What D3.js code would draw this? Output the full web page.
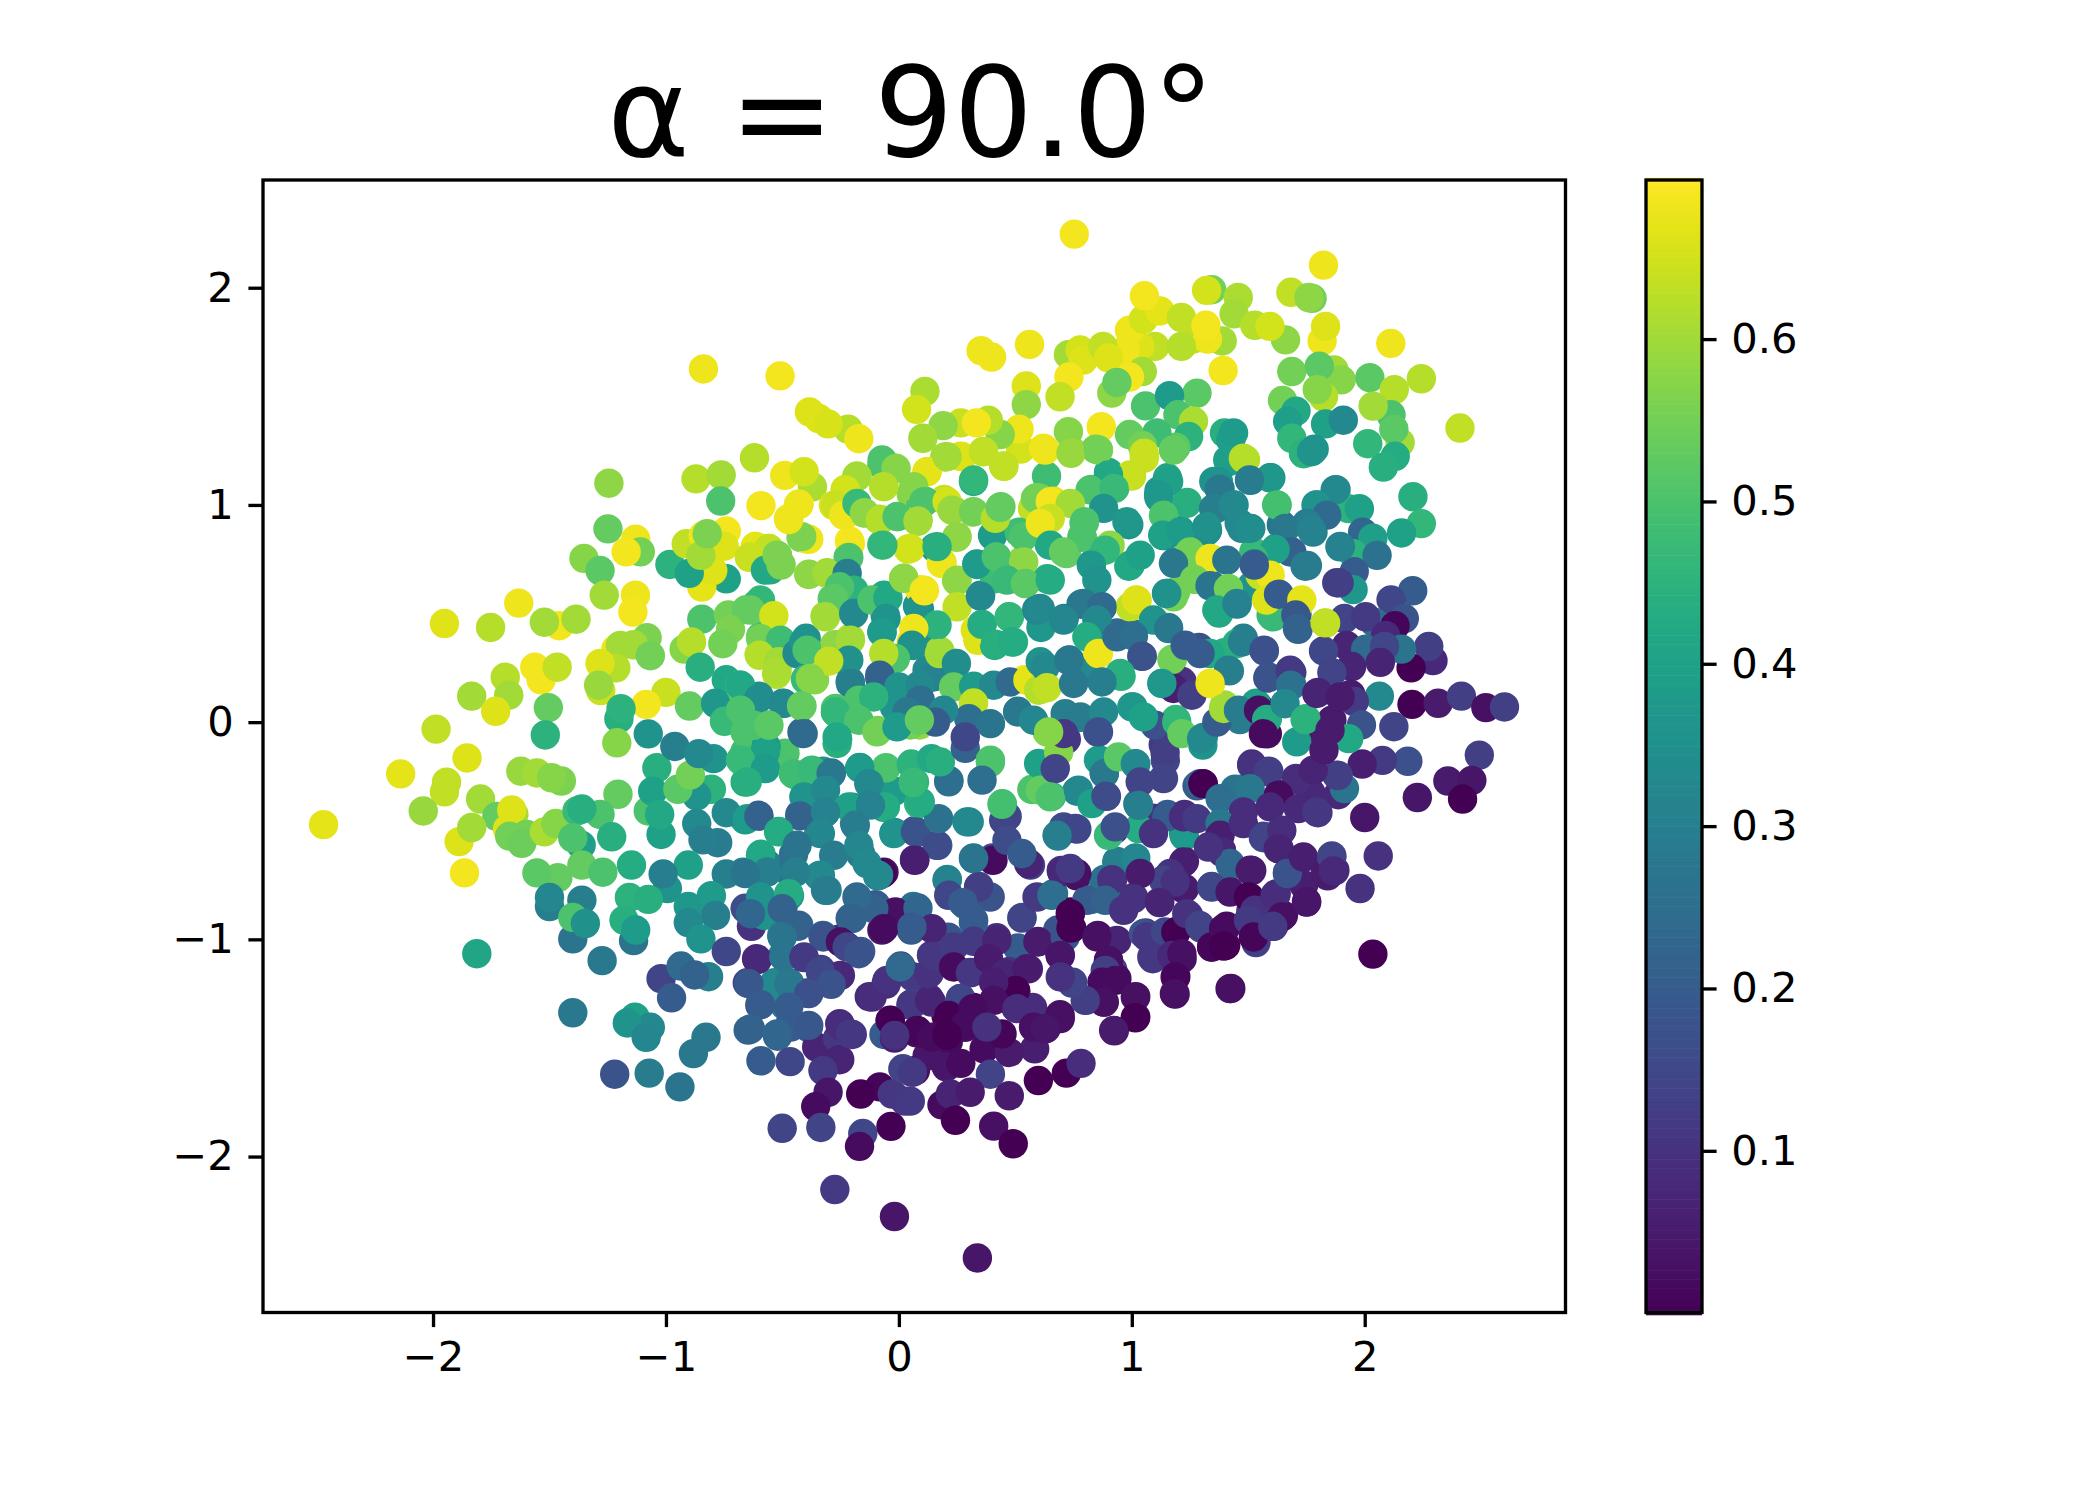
<!DOCTYPE html>
<html><head><meta charset="utf-8">
<script src="https://cdn.jsdelivr.net/npm/d3@7/dist/d3.min.js"></script>
<style>html,body{margin:0;background:#fff}svg{display:block}text{font-family:"DejaVu Sans";fill:#000}</style>
</head><body><svg id="c" width="2100" height="1500"></svg>
<script>
const title = "α = 90.0°";
const xTicks = [-2,-1,0,1,2];
const yTicks = [-2,-1,0,1,2];
const cTicks = [0.1,0.2,0.3,0.4,0.5,0.6];
const xDomain = [-2.73,2.862];
const yDomain = [-2.718,2.496];
const cDomain = [0.0004,0.698];
// [x, y, colour value]
const upperLeft = [[-.839,1.626,.68],[-.51,1.594,.685],[-.384,1.428,.66],[-.344,1.398,.66],[-.218,1.349,.62],[-.304,1.373,.655],[-.172,1.305,.68],[-.62,1.217,.62],[-.871,1.12,.62],[-.763,1.138,.6],[-1.245,1.1,.58],[-.765,1.018,.5],[-.592,.997,.685],[-.49,1.136,.68],[-.371,1.083,.61],[-.407,1.153,.65],[-.474,.937,.68],[-.431,1.003,.68],[-.281,.998,.66],[-.227,.958,.68],[-.18,1,.45],[-.23,1.071,.65],[-.073,1.183,.5],[-.015,1.169,.57],[-.18,1.133,.62],[-.064,1.086,.62],[-.15,.963,.58],[-.088,.934,.62],[-.005,.947,.5],[.08,.925,.6],[.053,1.05,.57],[.095,1,.5],[-.073,.817,.46],[.04,.797,.65],[-.212,.834,.69],[-.218,.759,.5],[-.387,.842,.68],[-.42,.85,.56],[-1.249,.89,.53],[-1.13,.842,.68],[-1.11,.784,.55],[-1.171,.784,.685],[-1.352,.754,.57],[-1.283,.698,.52],[-.983,.726,.45],[-.741,.66,.4],[-.846,.622,.67],[-.799,.698,.66],[-.9,.685,.4],[-.913,.821,.63],[-.84,.858,.68],[-.741,.88,.685],[-.75,.81,.66],[-.85,.768,.6],[-.823,.867,.56],[-.561,.8,.63],[-.642,.759,.64],[-.615,.81,.67],[-.552,.701,.42],[-.507,.726,.56],[-.521,.768,.55],[-.227,.685,.3],[-.308,.688,.6],[-.386,.681,.58],[-.227,.602,.45],[-.254,.622,.5],[-.2,.56,.5],[-.286,.568,.52],[-.317,.489,.6],[-.064,.585,.42],[.021,.663,.58],[-.059,.494,.36],[-.073,.416,.38],[.08,.535,.36],[.089,.61,.685],[.053,.369,.68],[.062,.353,.35],[-.209,.386,.62],[-.276,.356,.58],[-.435,.328,.33],[-.398,.386,.36],[-.395,.336,.5],[-.236,.286,.36],[-.302,.283,.63],[-1.265,.585,.6],[-1.131,.585,.68],[-1.142,.507,.685],[-1.632,.548,.68],[-1.951,.454,.665],[-1.753,.436,.62],[-1.458,.444,.685],[-1.522,.46,.6],[-1.386,.474,.6],[-.846,.474,.5],[-.611,.543,.46],[-.732,.494,.55],[-.655,.518,.53],[-.539,.49,.65],[-.723,.427,.56],[-1.081,.389,.56],[-1.215,.336,.68],[-1.196,.353,.6],[-1.139,.356,.6],[-1.067,.306,.55],[-.922,.336,.57],[-.89,.369,.62],[-.756,.361,.55],[-.516,.369,.45],[-.593,.394,.48],[-.853,.253,.44],[-.521,.294,.6],[-.6,.311,.62],[-.525,.22,.62],[-1.215,.25,.62],[-1.283,.27,.66],[-1.536,.195,.685],[-1.563,.253,.685],[-1.467,.253,.63],[-1.69,.207,.62],[-1.675,.124,.6],[-1.834,.12,.6],[-1.731,.05,.66],[-1.505,.067,.53],[-1.28,.145,.64],[-1.289,.17,.59],[-1,.137,.64],[-1.085,.082,.685],[-.899,.074,.53],[-1.202,.016,.44],[-1.193,.062,.45],[-1.076,-.054,.36],[-.962,-.112,.3],[-.859,-.145,.33],[-1.518,-.059,.45],[-1.987,-.032,.63],[-1.211,-.095,.57],[-.741,.195,.42],[-.687,.095,.53],[-.787,.087,.37],[-.684,.17,.45],[-.6,.12,.34],[-.498,.087,.33],[-.416,.074,.53],[-.398,.203,.47],[-.362,.195,.57],[-.209,.187,.3],[-.082,.203,.22],[-.172,.112,.5],[-.272,.045,.5],[-.416,-.046,.24],[-.263,-.079,.42],[-.091,-.038,.55],[-.749,.004,.47],[-.56,-.013,.52],[-.66,-.046,.5],[-.57,-.112,.38],[.053,.07,.26],[.089,-.013,.58],[.089,.17,.3],[-.019,.07,.36]];
const upperRight = [[.753,2.247,.685],[1.343,1.991,.55],[1.321,1.988,.65],[1.823,2.104,.68],[1.774,1.951,.55],[1.683,1.979,.63],[1.76,1.955,.58],[1.099,1.73,.63],[1.035,1.73,.66],[.972,1.714,.68],[.99,1.805,.68],[1.05,1.855,.65],[1.121,1.893,.67],[1.054,1.963,.685],[1.457,1.955,.61],[1.439,1.88,.6],[1.388,1.755,.6],[1.262,1.764,.63],[1.325,1.764,.68],[1.213,1.73,.62],[1.213,1.863,.63],[1.318,1.827,.685],[1.66,1.76,.58],[1.528,1.827,.62],[1.593,1.822,.65],[1.817,1.755,.68],[1.832,1.822,.66],[2.112,1.744,.68],[2.243,1.581,.62],[2.409,1.354,.63],[.353,1.71,.68],[.398,1.681,.68],[.561,1.739,.68],[.728,1.692,.6],[.778,1.714,.65],[.791,1.667,.66],[.876,1.73,.63],[.9,1.677,.66],[1.392,1.619,.685],[1.687,1.614,.55],[1.868,1.622,.6],[1.899,1.576,.57],[1.805,1.639,.52],[2.022,1.586,.52],[2.127,1.531,.62],[1.823,1.498,.62],[1.796,1.531,.57],[1.647,1.481,.55],[2.113,1.415,.5],[2.036,1.455,.6],[2.152,1.287,.6],[2.125,1.349,.52],[1.705,1.432,.42],[1.669,1.385,.39],[1.832,1.373,.4],[1.908,1.39,.33],[1.687,1.307,.46],[1.783,1.257,.36],[1.738,1.236,.45],[2.013,1.282,.46],[2.131,1.224,.43],[2.08,1.174,.44],[2.207,1.038,.44],[2.243,.914,.46],[2.158,.871,.4],[.73,1.589,.685],[.547,1.548,.66],[.692,1.498,.63],[.547,1.462,.58],[1.045,1.614,.6],[.99,1.589,.685],[.914,1.515,.58],[.936,1.564,.53],[1.059,1.456,.5],[1.28,1.515,.52],[1.162,1.503,.38],[1.198,1.415,.5],[1.265,1.385,.61],[1.244,1.315,.45],[1.189,1.266,.52],[1.108,1.332,.48],[1.054,1.216,.64],[.999,1.133,.63],[.99,1.324,.53],[1.045,1.274,.55],[.742,1.249,.6],[.728,1.337,.57],[.869,1.36,.685],[.523,1.257,.65],[.516,1.349,.68],[.621,1.261,.68],[.435,1.324,.57],[.384,1.39,.62],[.266,1.378,.64],[.333,1.378,.685],[.19,1.365,.58],[.112,1.523,.61],[.076,1.44,.65],[.103,1.307,.6],[.197,1.221,.6],[.266,1.224,.65],[.362,1.246,.63],[.451,1.178,.63],[.121,1.153,.67],[.32,1.108,.42],[.634,1.133,.48],[.845,1.257,.55],[.9,1.15,.42],[.827,1.071,.5],[.927,1.078,.47],[1.153,1.125,.41],[1.117,1.033,.37],[1.117,1.066,.37],[1.238,1.012,.44],[1.488,1.208,.62],[1.398,1.332,.44],[1.425,1.299,.39],[1.437,1.332,.38],[1.416,1.199,.39],[1.597,1.125,.37],[1.51,1.113,.29],[1.352,1.108,.36],[1.379,1.075,.28],[1.361,.983,.3],[1.439,1,.33],[1.624,1,.49],[1.877,1.07,.33],[1.931,.983,.45],[1.977,.983,.4],[1.832,.958,.24],[1.796,.9995,.36],[1.76,.917,.3],[1.991,.875,.23],[1.325,.884,.34],[1.461,.917,.33],[1.511,.892,.34],[1.642,.909,.27],[1.778,.875,.3],[2.035,.847,.39],[1.95,.776,.45],[2.053,.768,.26],[1.895,.809,.31],[1.955,.693,.2],[1.687,.784,.22],[1.62,.801,.4],[1.754,.721,.29],[1.524,.784,.47],[1.95,.61,.37],[1.89,.641,.13],[2.206,.605,.2],[2.113,.563,.15],[2.17,.477,.18],[2.04,.46,.25],[1.913,.477,.14],[2.004,.485,.12],[1.832,.456,.63],[2.13,.444,.01],[2.089,.399,.08],[2.293,.283,.08],[2.275,.349,.13],[2.199,.25,0],[1.922,.353,.07],[2.158,.336,.27],[2.076,.319,.25],[2.004,.336,.24],[2.085,.349,.15],[1.823,.328,.15],[1.944,.256,.07],[2.067,.275,.07],[1.859,.228,.14],[2.063,.12,.33],[2.203,.082,0],[2.315,.087,.05],[2.415,.12,.13],[2.52,.067,.03],[2.6,.07,.13],[1.94,.128,.05],[1.955,.095,.12],[1.799,.137,.07],[1.859,.009,.05],[1.805,-.037,.05],[2.125,-.021,.14],[1.986,-.013,.18],[1.931,-.076,.42],[1.747,.016,.45],[1.582,-.054,.02],[1.542,.075,.02],[1.533,.087,.4],[1.582,.016,.43],[1.464,.012,.29],[1.398,.079,.6],[1.338,.178,.68],[1.419,.236,.3],[1.687,.228,.12],[1.584,.203,.18],[1.687,.17,.26],[1.569,.328,.17],[1.479,.386,.3],[1.606,.485,.47],[1.714,.427,.22],[1.709,.494,.19],[1.723,.552,.67],[1.633,.588,.2],[1.569,.651,.68],[1.53,.726,.24],[1.343,.751,.68],[1.289,.66,.55],[1.343,.631,.27],[1.374,.502,.42],[1.452,.544,.31],[1.244,.784,.55],[1.184,.735,.28],[1.144,.859,.35],[1.135,.859,.3],[1.207,.884,.38],[1.189,.602,.55],[1.149,.593,.35],[1.023,.56,.66],[.987,.718,.42],[.827,.726,.37],[.782,.543,.28],[.873,.529,.24],[.719,.776,.53],[.646,.817,.42],[.787,.851,.5],[.795,.917,.5],[.878,.792,.46],[.987,.909,.36],[.574,.983,.63],[.664,1.017,.67],[.592,1.033,.55],[.416,.934,.62],[.438,.992,.53],[.23,.98,.57],[.317,.967,.58],[.194,1.025,.64],[.112,1.017,.48],[.082,.934,.6],[.248,.851,.6],[.185,.734,.65],[.154,.804,.37],[.402,.859,.38],[.335,.726,.38],[.42,.759,.47],[.516,.875,.48],[.529,.743,.58],[.109,.607,.685],[.351,.585,.33],[.248,.651,.58],[.411,.66,.47],[.538,.643,.52],[.637,.66,.43],[.357,.449,.43],[.474,.485,.46],[.592,.519,.32],[.71,.477,.28],[.339,.377,.66],[.411,.353,.43],[.492,.369,.44],[.61,.436,.37],[.733,.286,.28],[.628,.158,.63],[.538,.195,.685],[.32,.09,.63],[.239,.27,.34],[.14,.211,.33],[.067,.436,.68],[.085,.369,.36],[.176,.328,.6],[.511,.05,.28],[.773,.021,.29],[.311,.021,.3],[.049,-.013,.55],[1.005,.07,.37],[.854,-.046,.17],[.719,-.079,.11],[.637,-.046,.57],[1.189,.012,.46],[1.307,-.07,.33],[1.135,-.104,.12],[.999,.411,.25],[.854,.32,.68],[.936,.411,.24],[1.045,.303,.18],[1.175,.29,.55],[1.216,.187,.1],[1.13,.178,.37],[.954,.211,.44],[.818,.228,.33],[1.157,.436,.33],[.827,.386,.4],[1.397,.32,.44],[1.289,.344,.17],[1.515,.627,.35]];
const lowerLeft = [[-1.854,-.165,.66],[-2.139,-.238,.67],[-1.951,-.321,.63],[-1.942,-.276,.63],[-2.47,-.472,.67],[-2.042,-.409,.59],[-1.796,-.354,.6],[-1.623,-.226,.59],[-1.554,-.234,.6],[-1.449,-.271,.56],[-1.491,-.256,.57],[-1.206,-.332,.53],[-1.726,-.434,.53],[-1.653,-.425,.6],[-1.662,-.404,.66],[-1.888,-.55,.66],[-1.834,-.485,.6],[-1.68,-.492,.66],[-1.599,-.517,.55],[-1.671,-.525,.55],[-1.619,-.558,.54],[-1.522,-.505,.61],[-1.473,-.467,.57],[-1.865,-.694,.685],[-1.283,-.425,.5],[-1.382,-.409,.47],[-1.361,-.4,.44],[-1.364,-.566,.39],[-1.4,-.533,.5],[-1.361,-.658,.53],[-1.464,-.716,.53],[-1.554,-.694,.52],[-1.271,-.691,.5],[-1.233,-.528,.44],[-1.076,-.409,.5],[-1.039,-.21,.44],[-1.057,-.318,.4],[-1.021,-.517,.4],[-1.027,-.425,.42],[-.805,-.309,.45],[-.868,-.339,.36],[-.949,-.309,.52],[-.895,-.243,.55],[-.796,-.168,.36],[-.669,-.16,.42],[-.579,-.152,.38],[-.66,-.276,.43],[-.66,-.45,.38],[-.741,-.417,.33],[-.602,-.429,.2],[-.868,-.467,.33],[-.516,-.503,.42],[-.778,-.555,.29],[-.841,-.542,.3],[-.592,-.608,.42],[-.561,-.683,.3],[-.669,-.691,.29],[-.741,-.699,.3],[-.904,-.658,.4],[-1.148,-.658,.43],[-.994,-.766,.36],[-1.012,-.699,.3],[-1.157,-.807,.45],[-1.076,-.816,.44],[-.805,-.799,.38],[-.904,-.849,.37],[-.787,-.89,.3],[-.904,-.923,.33],[-.85,-.998,.36],[-1.5,-.849,.3],[-1.5,-.807,.32],[-1.361,-.82,.3],[-1.4,-.998,.27],[-1.4,-.899,.5],[-1.346,-.927,.35],[-1.139,-1.006,.27],[-1.18,-.912,.44],[-1.13,-.957,.38],[-1.274,-1.098,.28],[-1.812,-1.066,.41],[-1.4,-1.338,.28],[-1.133,-1.358,.4],[-1.067,-1.405,.33],[-1.166,-1.385,.36],[-1.085,-1.451,.32],[-.828,-1.451,.28],[-.882,-1.526,.28],[-1.22,-1.621,.18],[-1.072,-1.616,.29],[-.94,-1.679,.27],[-1.021,-1.181,.14],[-.976,-1.269,.2],[-.817,-1.172,.3],[-.935,-1.123,.24],[-.877,-1.164,.22],[-.741,-1.056,.15],[-.611,-1.089,.08],[-.534,-1.2,.32],[-.651,-1.2,.14],[-.597,-1.302,.13],[-.489,-1.305,.26],[-.47,-1.2,.24],[-.647,-1.418,.22],[-.521,-1.446,.23],[-.592,-1.559,.2],[-.467,-1.563,.15],[-.47,-1.396,.19],[-.389,-1.405,.19],[-.398,-1.247,.18],[-.29,-1.2,.18],[-.254,-1.388,.09],[-.353,-1.496,.07],[-.2,-1.438,.11],[-.263,-1.455,.11],[-.254,-1.554,.07],[-.326,-1.604,.12],[-.304,-1.704,.04],[-.357,-1.77,.02],[-.082,-1.679,.01],[-.164,-1.712,0],[.026,-1.745,.12],[-.028,-1.712,.11],[-.335,-1.866,.14],[-.501,-1.87,.14],[-.155,-1.894,.15],[-.034,-1.861,0],[-.169,-1.953,.02],[-.275,-2.152,.12],[-.019,-2.276,.04],[-.407,-1.081,.12],[-.335,-1.139,.13],[-.254,-.998,.08],[-.227,-1.031,.16],[-.164,-1.056,.19],[.008,-1.123,.14],[-.127,-1.264,.08],[-.055,-1.206,.09],[.053,-1.297,.07],[-.037,-1.372,.01],[.08,-1.421,.01],[-.064,-1.438,.2],[-.019,-1.455,.06],[.071,-1.604,.02],[.017,-1.596,.14],[-.073,-.957,.04],[-.037,-.89,.05],[-.01,-.877,.03],[.053,-.957,.2],[-.172,-.824,.19],[-.209,-.903,.22],[-.1,-.84,.2],[.062,-.849,.26],[-.064,-.691,.03],[-.091,-.708,.3],[.068,-.633,.07],[.068,-.5,.18],[-.019,-.508,.31],[-.19,-.467,.29],[-.344,-.508,.3],[-.425,-.425,.22],[-.317,-.417,.33],[-.326,-.226,.35],[-.29,-.234,.24],[-.167,-.21,.38],[-.127,-.284,.29],[.062,-.276,.47],[-.064,-.392,.35],[-.2,-.392,.33],[-.561,-.658,.3],[-.47,-.691,.26],[-.344,-.708,.33],[-.308,-.774,.32],[-.47,-.799,.36],[-.66,-.857,.16],[-.633,-.877,.18],[-.633,-.94,.1],[-.579,-.89,.36],[-.498,-.857,.23],[-.434,-.94,.23],[-.326,-.982,.2],[-.503,-.982,.31],[-.498,-1.073,.28],[-.452,-.608,.25],[-.164,-.608,.28],[-.019,-.318,.38],[-.444,-.243,.47],[-.38,-.226,.44],[-.055,-.21,.5],[.053,-.193,.45],[-.489,-.143,.5],[-.66,-.135,.48]];
const lowerRight = [[2.492,-.152,.13],[2.185,-.18,.17],[2.076,-.176,.12],[1.989,-.193,.06],[2.357,-.271,.05],[2.46,-.268,.04],[2.42,-.354,0],[2.226,-.347,.04],[2,-.439,.04],[1.886,-.334,.08],[1.913,-.306,.27],[1.886,-.246,.15],[1.799,-.417,.11],[1.769,-.326,.08],[1.705,-.259,.1],[1.633,-.334,.03],[1.588,-.226,.13],[1.515,-.193,.09],[1.443,-.309,.27],[1.47,-.309,.28],[1.307,-.284,0],[1.153,-.425,.2],[1.226,-.425,.09],[1.026,-.376,.26],[1.226,-.525,.38],[1.03,-.488,.42],[1.379,-.508,.07],[1.385,-.591,.08],[1.642,-.5,.09],[1.566,-.525,.15],[1.633,-.583,.07],[2.058,-.616,.1],[1.859,-.616,.14],[1.872,-.683,.08],[1.841,-.708,.06],[1.732,-.625,.07],[1.669,-.691,.18],[1.738,-.749,.06],[1.75,-.827,.04],[1.62,-.791,.09],[1.98,-.766,.1],[2.035,-1.068,0],[1.515,-.683,.05],[1.416,-.774,.04],[1.506,-.807,0],[1.343,-.757,.15],[1.226,-.641,.05],[1.226,-.766,.06],[1.14,-.724,.16],[1.18,-.708,.14],[1.12,-.827,.08],[1.035,-.691,.06],[1.008,-.807,.09],[1.017,-.625,.32],[.936,-.641,.3],[.918,-.724,.1],[.882,-.724,.27],[.9,-.799,.24],[.827,-.816,.26],[.764,-.708,.03],[.701,-.691,.09],[.664,-.79,.25],[.737,-.874,0],[.682,-.957,.18],[.742,-.948,0],[.854,-.982,.03],[.918,-1.139,.13],[.9,-1.098,.03],[.891,-1.189,.02],[.936,-1.181,.02],[.882,-1.289,.03],[1.017,-1.264,.03],[1.017,-1.358,0],[.925,-1.421,.05],[.804,-1.28,.13],[.746,-1.197,.14],[.697,-1.172,.1],[.692,-1.073,.04],[.597,-1.01,.06],[.42,-.993,.09],[.32,-1.006,.1],[.14,-1.073,.12],[.556,-1.136,.07],[.308,-1.152,.13],[.406,-1.192,.07],[.502,-1.239,.01],[.266,-1.272,.13],[.32,-1.314,0],[.574,-1.314,.09],[.502,-1.314,.1],[.692,-1.347,.03],[.632,-1.41,.04],[.583,-1.504,.06],[.434,-1.446,.03],[.203,-1.355,0],[.284,-1.405,.03],[.366,-1.504,.02],[.212,-1.471,.02],[.474,-1.521,.05],[.121,-1.538,.04],[.203,-1.587,.04],[.076,-1.43,.02],[.13,-1.272,.08],[.13,-1.156,.1],[.266,-1.571,.02],[.393,-1.621,.14],[.719,-1.616,0],[.782,-1.571,.09],[.599,-1.65,0],[.474,-1.72,.05],[.185,-1.762,.02],[.221,-1.712,.07],[.306,-1.704,.05],[.243,-1.833,0],[.407,-1.86,.03],[.491,-1.941,0],[.049,-1.745,.12],[.058,-1.612,.12],[.337,-2.467,.04],[1.425,-1.226,.03],[1.186,-1.252,.03],[1.189,-1.172,.01],[1.09,-1.089,.11],[1.216,-1.089,.03],[1.171,-1.081,.08],[1.059,-.97,.12],[1.171,-.973,.12],[1.189,-.965,0],[1.298,-.948,.14],[1.244,-.89,.1],[1.343,-1.036,.01],[1.403,-1.028,0],[1.407,-.94,.02],[1.533,-1.015,.13],[1.528,-.981,.01],[1.651,-.89,.03],[1.609,-.94,.12],[1.511,-.87,.1],[1.425,-.658,.23],[1.144,-.176,.15],[1.28,-.293,.2],[1.09,-.442,.1],[.927,-.492,.1],[.882,-.235,.28],[.891,-.342,.15],[.864,-.176,.3],[1.017,-.193,.33],[.764,-.318,.32],[.393,-.185,.5],[.14,-.168,.42],[.215,-.268,.29],[.067,-.276,.45],[.085,-.376,.45],[.655,-.342,.44],[.579,-.309,.5],[.67,-.21,.14],[.444,-.376,.47],[.465,-.434,.15],[.764,-.492,.15],[.302,-.459,.33],[.683,-.525,.3],[.167,-.567,.24],[.076,-.508,.22],[.067,-.633,.09],[.32,-.625,.29],[.402,-.625,.15],[.565,-.658,.13],[.697,-.683,.1],[.208,-.724,.35],[.344,-.757,.16],[.529,-.899,.24],[.284,-.84,.27],[.076,-.857,.3],[.32,-.923,.25],[.212,-.99,.18],[.511,-1.04,.2],[.474,-1.148,.1],[.058,-1.172,.12],[.14,-1.289,.09],[.058,-1.297,.14]];
const centerC = [[-.573,-.137,.4],[-.68,-.175,.47],[-.573,-.214,.38],[-.651,-.275,.44],[-.454,-.237,.48],[-.373,-.221,.47],[-.265,-.098,.44],[-.291,-.237,.28],[-.168,-.209,.38],[-.129,-.283,.33],[-.408,-.344,.36],[-.315,-.313,.33],[-.215,-.39,.4],[-.058,-.39,.43],[-.122,-.382,.31],[-.651,-.444,.38],[-.601,-.433,.22],[-.425,-.432,.22],[-.516,-.505,.43],[-.315,-.413,.31],[-.337,-.513,.32],[-.187,-.475,.29],[-.437,-.567,.27],[-.594,-.613,.42],[-.28,-.613,.29],[-.337,-.705,.33],[-.172,-.567,.32],[-.022,-.513,.36],[.071,-.505,.18],[.164,-.567,.16],[-.444,-.69,.3],[-.072,-.697,.01],[-.137,-.651,.33],[-.087,-.705,.33],[-.566,-.69,.3],[-.659,-.697,.27],[-.315,-.774,.29],[.068,-.636,.06],[.207,-.728,.31],[.404,-.636,.02],[.321,-.628,.27],[.171,-.444,.26],[.292,-.459,.33],[.45,-.452,.14],[.464,-.544,.16],[.092,-.367,.43],[.061,-.278,.47],[.214,-.275,.25],[.178,-.183,.44],[.285,-.121,.22],[.393,-.175,.5],[.357,-.267,.25],[.443,-.378,.49],[.571,-.31,.5],[.6,-.19,.4],[.557,-.651,.07],[.528,-.605,.2],[.392,-.805,.18],[.342,-.759,.13],[.528,-.902,.14],[.593,-.805,.12],[-.015,-.874,.03],[.082,-.856,.23],[-.108,-.859,.22],[-.065,-.951,.02],[-.18,-.805,.24],[-.201,-.905,.22],[.214,-.797,.15],[.275,-.831,.2],[.321,-.912,.2],[-.594,-.805,.36],[-.473,-.79,.43],[-.637,-.882,.23],[-.501,-.859,.22],[-.43,-.935,.22],[-.501,-.989,.27],[-.325,-.989,.18],[-.251,-1.012,.03],[-.222,-1.035,.15],[-.172,-1.066,.18],[.142,-.951,.07],[.056,-.943,.2],[-.608,-1.094,.08],[-.494,-1.081,.27],[-.408,-1.084,.12],[-.251,-1.166,.08],[-.337,-1.15,.15],[-.291,-1.207,.18],[-.53,-1.22,.33],[-.473,-1.204,.28],[-.387,-1.25,.17],[-.644,-1.204,.19],[-.594,-1.301,.2],[-.473,-1.312,.2],[-.637,-1.412,.22],[-.465,-1.404,.2],[-.523,-1.435,.23],[-.387,-1.396,.19],[-.251,-1.396,.09],[-.208,-1.435,.11],[-.115,-1.266,.09],[-.051,-1.189,.1],[.006,-1.127,.24],[.052,-1.304,.11],[.132,-1.281,.07],[.128,-1.158,.1],[.147,-1.078,.11],[.235,-1.035,.12],[.321,-1.009,.12],[.421,-1.005,.07],[.597,-1.012,.05],[.235,-1.127,.02],[.307,-1.154,.11],[.385,-1.089,.05],[.457,-1.158,.07],[.55,-1.135,.05],[.5,-1.235,0],[.407,-1.197,.06],[.264,-1.273,.15],[.214,-1.35,0],[.407,-1.281,.03],[.318,-1.319,.02],[.507,-1.319,.09],[.443,-1.435,.01],[.578,-1.404,.03],[.285,-1.396,.02],[.378,-1.404,.1],[.078,-1.419,.01],[.142,-1.45,.02],[.207,-1.442,0],[-.037,-1.373,0],[-.018,-1.442,.1]];
const centerD = [[.607,-.313,.53],[.686,-.137,.57],[.671,-.214,.14],[.65,-.344,.5],[.771,-.313,.33],[.857,-.175,.38],[.882,-.237,.28],[.829,-.375,.4],[.889,-.341,.16],[.943,-.16,.52],[1.015,-.191,.33],[1.036,-.275,.14],[1.143,-.141,.13],[1.136,-.26,.14],[1.305,-.106,.36],[1.293,-.283,.23],[1.305,-.283,0],[1.029,-.49,.43],[1.029,-.383,.3],[.9,-.521,.47],[1.222,-.513,.38],[1.15,-.436,.2],[1.222,-.436,.09],[1.279,-.444,.12],[1.093,-.513,.1],[.929,-.482,.17],[.707,-.482,.16],[.757,-.49,.15],[.679,-.521,.3],[1.708,-.091,.38],[1.515,-.198,.1],[1.586,-.229,.13],[1.708,-.267,.09],[1.465,-.313,.27],[1.508,-.306,.28],[1.379,-.352,.25],[1.629,-.336,.02],[1.479,-.413,.09],[1.594,-.39,.08],[1.715,-.398,.08],[1.794,-.413,.11],[1.379,-.467,.28],[1.379,-.521,.06],[1.386,-.598,.08],[1.422,-.651,.23],[1.479,-.467,.09],[1.329,-.575,.1],[1.565,-.532,.14],[1.644,-.498,.09],[1.629,-.582,.07],[1.88,-.244,.13],[1.779,-.221,.07],[1.825,-.129,.05],[.936,-.651,.3],[1.015,-.628,.32],[1.222,-.644,.06],[1.165,-.697,.1],[1.136,-.728,.14],[1.222,-.766,.05],[1.186,-.736,.1],[1.036,-.697,.05],[.879,-.736,.26],[.914,-.725,.1],[.807,-.82,.2],[.886,-.82,.22],[1.007,-.813,.1],[1.119,-.831,.07],[1.343,-.759,.15],[1.422,-.782,.04],[1.508,-.682,.05],[1.501,-.805,0],[1.529,-.866,.1],[1.615,-.797,.09],[1.668,-.697,.18],[1.737,-.621,.06],[1.751,-.828,.04],[1.83,-.697,.05],[1.858,-.621,.14],[1.865,-.685,.08],[.7,-.69,.08],[.764,-.697,.03],[.736,-.674,.12],[.657,-.797,.25],[.736,-.882,0],[.714,-.989,.18],[.739,-.948,0],[.936,-1.005,.07],[.85,-.989,.03],[.9,-1.097,.03],[.886,-1.143,.13],[.872,-1.197,.02],[.929,-1.189,.02],[.879,-1.289,.03],[1.015,-1.266,.03],[1.015,-1.361,0],[.922,-1.419,.05],[.8,-1.281,.13],[.743,-1.201,.14],[.693,-1.074,.04],[.693,-1.173,.1],[.693,-1.365,.03],[.628,-1.412,.04],[.965,-.866,.1],[1.05,-.974,.18],[1.065,-.989,.11],[1.143,-.966,.15],[1.189,-.966,0],[1.086,-1.081,.11],[1.172,-1.074,.08],[1.215,-1.066,.03],[1.186,-1.173,.01],[1.183,-1.25,.03],[1.422,-1.227,.03],[1.236,-.882,.1],[1.291,-.936,.14],[1.343,-1.035,.01],[1.394,-.951,.02],[1.394,-1.031,0],[1.501,-.912,.12],[1.529,-.99,.13],[1.522,-.989,.01],[1.644,-.897,.03],[1.605,-.94,.12]];
const centerA = [[-.18,1.13,.6],[-.23,1.069,.65],[-.272,1,.64],[-.237,.953,.68],[-.18,1.007,.47],[-.148,.964,.58],[-.079,.933,.62],[-.008,.946,.5],[-.072,1.207,.5],[-.012,1.168,.57],[-.065,1.084,.62],[.121,1.153,.67],[.064,1.084,.57],[.107,1.015,.5],[.271,1.222,.66],[.207,1.222,.6],[.364,1.245,.63],[.45,1.179,.63],[.321,1.115,.46],[.207,1.015,.65],[.228,.976,.59],[.321,.969,.55],[.414,.938,.62],[.435,.989,.53],[.578,.992,.63],[.586,1.03,.55],[.535,.854,.5],[.082,.926,.6],[.049,.8,.65],[.25,.854,.58],[.182,.731,.68],[.164,.808,.44],[-.069,.815,.46],[-.208,.823,.685],[-.215,.758,.5],[-.394,.843,.68],[-.417,.854,.56],[-.428,1.003,.68],[-.473,.933,.68],[-.616,.807,.67],[-.558,.8,.63],[-.637,.761,.64],[-.573,.7,.42],[-.523,.769,.56],[-.506,.723,.56],[-.387,.68,.58],[-.308,.685,.6],[-.222,.685,.3],[-.194,.608,.45],[-.255,.623,.5],[-.28,.569,.52],[-.315,.485,.6],[-.194,.5,.33],[-.115,.562,.5],[-.047,.572,.42],[.021,.662,.58],[.088,.523,.36],[.109,.605,.685],[.25,.654,.58],[.25,.531,.63],[.35,.58,.33],[.417,.7,.48],[.335,.728,.38],[.418,.761,.5],[.536,.738,.58],[.464,.654,.47],[.543,.638,.52],[-.594,.562,.46],[-.637,.516,.53],[-.537,.49,.65],[-.055,.477,.36],[-.072,.413,.38],[.164,.447,.45],[.064,.431,.68],[.056,.354,.35],[.328,.423,.66],[.357,.45,.43],[.474,.485,.46],[.593,.516,.32],[.414,.359,.44],[.485,.37,.43],[-.594,.385,.55],[-.508,.377,.48],[-.598,.308,.62],[-.516,.278,.6],[-.523,.232,.61],[-.437,.316,.33],[-.408,.37,.36],[-.394,.331,.5],[-.272,.354,.58],[-.208,.377,.6],[-.215,.285,.35],[-.301,.281,.63],[-.401,.196,.47],[-.38,.201,.57],[-.015,.293,.5],[-.065,.316,.62],[.121,.239,.33],[.149,.208,.31],[.174,.316,.6],[.247,.27,.34],[-.208,.178,.3],[-.082,.216,.22],[0,.162,.36],[.092,.17,.33],[.235,.162,.53],[.321,.165,.38],[.407,.17,.33],[.478,.185,.24],[.554,.193,.67],[.6,.147,.62],[-.68,.17,.42],[-.601,.109,.34],[-.494,.086,.33],[-.418,.075,.53],[-.272,.063,.5],[-.172,.101,.5],[-.108,.116,.45],[.092,.101,.25],[.321,.088,.63],[.3,.016,.25],[.393,-.007,.27],[.51,.047,.28],[.578,.009,.32],[.192,.055,.32],[-.68,.055,.5],[-.272,.047,.46],[-.172,.009,.5],[-.094,-.045,.55],[.035,.047,.28],[-.008,-.022,.38],[.157,0,.2],[.088,.01,.53],[-.623,-.014,.5],[-.558,-.014,.52],[-.411,-.053,.24],[-.265,-.068,.42],[.285,-.068,.15]];
const centerB = [[.628,1.253,.68],[.739,1.238,.59],[.857,1.253,.55],[1.053,1.238,.64],[1.179,1.253,.53],[.993,1.138,.64],[.9,1.138,.42],[.821,1.069,.5],[.924,1.076,.47],[.607,1.03,.55],[.65,1.015,.685],[.736,1.007,.6],[1.158,1.107,.4],[1.115,1.046,.37],[1.236,1.007,.44],[1.136,.953,.5],[.879,.984,.36],[1.412,1.207,.39],[1.479,1.215,.62],[1.737,1.238,.45],[1.772,1.245,.36],[1.594,1.125,.37],[1.505,1.115,.29],[1.372,1.107,.36],[1.376,1.072,.28],[1.351,.984,.3],[1.436,1,.33],[1.622,1,.49],[1.873,1.069,.33],[1.791,1,.36],[1.837,.953,.24],[1.751,.915,.3],[1.322,.88,.34],[1.472,.892,.33],[1.508,.892,.34],[1.658,.892,.28],[1.772,.884,.31],[1.894,.807,.31],[1.68,.784,.22],[1.615,.795,.4],[1.744,.718,.29],[1.522,.754,.47],[1.526,.728,.24],[1.88,.642,.13],[.797,.923,.5],[.786,.854,.5],[.65,.938,.64],[.607,.915,.68],[.65,.815,.42],[.707,.784,.53],[.979,.923,.37],[.907,.815,.58],[.886,.792,.46],[.993,.723,.42],[1.036,.769,.4],[1.133,.861,.4],[1.208,.877,.38],[1.322,.9,.35],[1.25,.784,.55],[1.336,.754,.68],[1.179,.731,.28],[1.408,.746,.27],[1.269,.657,.55],[1.336,.628,.27],[1.415,.615,.55],[.826,.723,.37],[.65,.654,.43],[1.551,.677,.64],[1.594,.677,.68],[1.526,.723,.2],[.85,.654,.36],[1.179,.577,.55],[1.15,.592,.35],[.993,.531,.63],[1.019,.562,.66],[.793,.546,.28],[.872,.531,.24],[1.365,.516,.42],[1.451,.546,.31],[1.598,.493,.47],[1.579,.562,.66],[1.63,.589,.2],[1.73,.562,.67],[1.704,.493,.19],[1.711,.431,.22],[1.83,.457,.63],[.607,.523,.33],[.707,.47,.32],[.85,.47,.33],[1.093,.47,.36],[1.158,.431,.28],[.807,.393,.43],[.857,.316,.68],[.936,.393,.24],[1.007,.397,.25],[1.043,.304,.18],[1.172,.288,.55],[1.229,.354,.2],[1.336,.316,.42],[1.293,.316,.2],[1.451,.362,.44],[1.475,.37,.3],[1.568,.331,.17],[1.586,.208,.18],[1.415,.239,.3],[1.68,.239,.12],[1.682,.17,.26],[.607,.278,.36],[.628,.255,.33],[.729,.285,.28],[.95,.224,.44],[.872,.185,.3],[.636,.159,.63],[.75,.178,.28],[1.179,.155,.06],[1.258,.124,.13],[1.129,.178,.37],[1.336,.178,.68],[.714,.039,.3],[.779,.024,.29],[.879,.047,.33],[1,.07,.37],[.857,-.045,.17],[.707,-.053,.11],[.643,-.045,.57],[1.1,-.014,.17],[1.05,.024,.4],[1.193,.001,.46],[1.215,-.053,.53],[1.3,-.076,.33],[1.365,0,.2],[1.394,.063,.6],[1.458,.055,.29],[1.544,.055,.03],[1.579,.012,.43],[1.658,.085,.33],[1.565,-.053,.02],[1.744,.012,.45],[1.794,.132,.07],[1.851,-.037,.05],[1.894,.116,.05]];

const svg = d3.select("#c");
const x = d3.scaleLinear().domain(xDomain).range([263,1565.5]);
const y = d3.scaleLinear().domain(yDomain).range([1312.5,180]);
const color = d3.scaleSequential(d3.interpolateViridis).domain(cDomain);
const cbar = d3.scaleLinear().domain(cDomain).range([1312.5,180]);

svg.append("g").selectAll("circle")
  .data([...lowerLeft,...upperLeft,...lowerRight,...upperRight,...centerC,...centerD,...centerA,...centerB])
  .join("circle")
  .attr("cx",d=>x(d[0])).attr("cy",d=>y(d[1])).attr("r",14.7)
  .attr("fill",d=>color(Math.min(d[2],cDomain[1])));

const lw = 3.33, tickLen = 14.6, fs = 41.67;
function style(g){
  g.select(".domain").remove();
  g.selectAll("line").attr("stroke","#000").attr("stroke-width",lw);
  g.selectAll("text").attr("font-size",fs).attr("font-family","DejaVu Sans").attr("fill","#000");
}
svg.append("g").attr("transform","translate(0,1312.5)")
  .call(d3.axisBottom(x).tickValues(xTicks).tickSize(tickLen).tickPadding(14.6).tickFormat(d=>d3.format("d")(d).replace("-","−")))
  .call(style);
svg.append("g").attr("transform","translate(263,0)")
  .call(d3.axisLeft(y).tickValues(yTicks).tickSize(tickLen).tickPadding(14.6).tickFormat(d=>d3.format("d")(d).replace("-","−")))
  .call(style);
svg.append("rect").attr("x",263).attr("y",180).attr("width",1302.5).attr("height",1132.5)
  .attr("fill","none").attr("stroke","#000").attr("stroke-width",lw);

// colour bar
const steps = d3.range(256).map(i=>cDomain[0]+(cDomain[1]-cDomain[0])*i/255);
const stepH = 1132.5/256;
svg.append("g").selectAll("rect").data(steps).join("rect")
  .attr("x",1646).attr("width",56)
  .attr("y",d=>cbar(d)-stepH/2).attr("height",stepH+0.6)
  .attr("fill",d=>color(d));
svg.append("rect").attr("x",1646).attr("y",180).attr("width",56).attr("height",1132.5)
  .attr("fill","none").attr("stroke","#000").attr("stroke-width",lw);
svg.append("g").attr("transform","translate(1702,0)")
  .call(d3.axisRight(cbar).tickValues(cTicks).tickSize(tickLen).tickPadding(14.6).tickFormat(d3.format(".1f")))
  .call(style);

svg.append("text").attr("x",911).attr("y",156).attr("text-anchor","middle")
  .attr("font-size",125).text(title);
</script></body></html>
